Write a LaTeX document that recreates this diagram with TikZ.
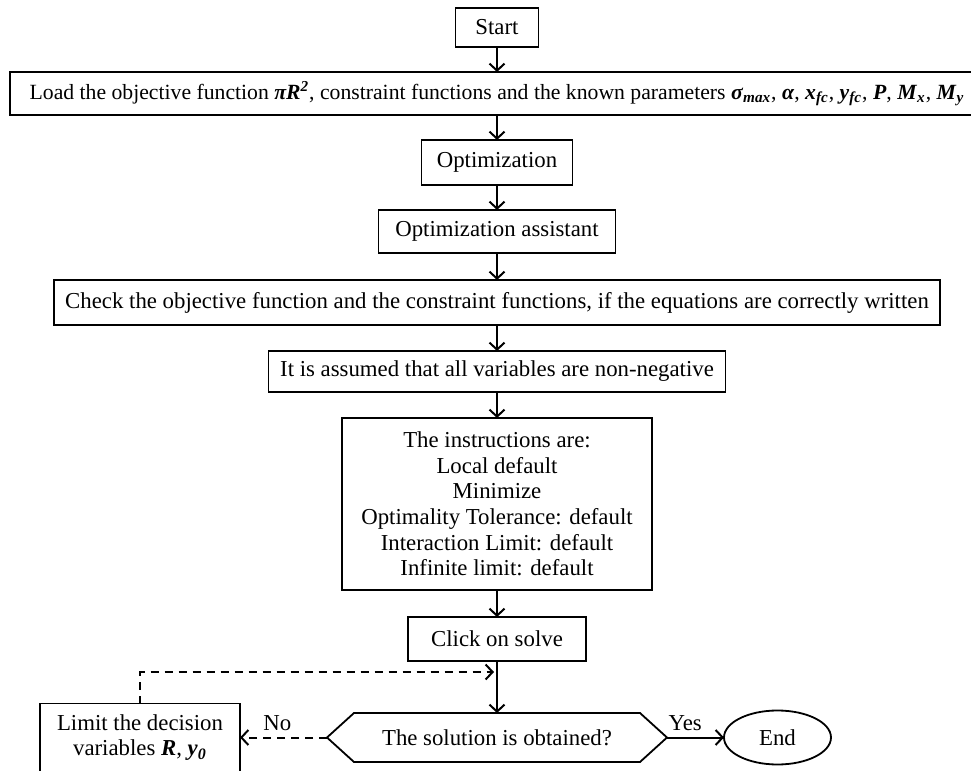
\documentclass[tikz,border=0pt]{standalone}
\usepackage{fontspec}
\setmainfont{Liberation Serif}
\usetikzlibrary{positioning, shapes.geometric, arrows.meta, calc}
\newcommand{\bivar}[1]{\textbf{\textit{#1}}}

\begin{document}
\begin{tikzpicture}[font=\fontsize{11.4}{12.8}\selectfont, node distance=12.5pt,
  s/.style={draw, line width=0.9pt, outer sep=0pt, minimum height=21.5pt, inner sep=2pt, align=center},
  arr/.style={-{Straight Barb[length=3.5pt, width=7.5pt]}, line width=1pt},
  darr/.style={arr, dash pattern=on 4pt off 3pt}
]
  \useasboundingbox (0,0) rectangle (485.5pt,-385.5pt);
  \node[s, minimum width=41.5pt, minimum height=19.5pt] (start) at (248.5pt,-13.75pt) {Start};
  \node[s, below=of start, minimum width=487pt, font=\fontsize{10.85}{12.8}\selectfont] (load) {Load the objective function \bivar{πR}\textsuperscript{\bivar{2}}, constraint functions and the known parameters \bivar{σ}\textsubscript{\bivar{max}}, \bivar{α}, \bivar{x}\textsubscript{\bivar{fc}}, \bivar{y}\textsubscript{\bivar{fc}}, \bivar{P}, \bivar{M}\textsubscript{\bivar{x}}, \bivar{M}\textsubscript{\bivar{y}}};
  \node[s, below=of load, minimum width=75.5pt, minimum height=22.5pt] (opt) {Optimization};
  \node[s, below=of opt, minimum width=118.5pt] (assist) {Optimization assistant};
  \node[s, below=13.5pt of assist, minimum width=443pt, minimum height=22.5pt] (check) {Check the objective function and the constraint functions, if the equations are correctly written};
  \node[s, below=13pt of check, minimum width=228.5pt, minimum height=20.5pt] (assume) {It is assumed that all variables are non-negative};
  \node[s, below=13pt of assume, minimum width=155pt, minimum height=86pt] (instr) {The instructions are:\\Local default\\Minimize\\Optimality Tolerance: default\\Interaction Limit: default\\Infinite limit: default};
  \node[s, below=13.5pt of instr, minimum width=89pt, minimum height=22pt] (solve) {Click on solve};
  \node[below=26pt of solve, outer sep=0pt, minimum width=170pt, minimum height=24.5pt, inner sep=0pt] (ask) {The solution is obtained?};
  \draw[line width=0.9pt] ([xshift=13.5pt]ask.north west) -- ([xshift=-13.5pt]ask.north east) -- (ask.east)
    -- ([xshift=-13.5pt]ask.south east) -- ([xshift=13.5pt]ask.south west) -- (ask.west) -- cycle;
  \node[s, left=43.5pt of ask, minimum width=100pt, minimum height=34pt] (limit) {Limit the decision\\variables \bivar{R}, \bivar{y}\textsubscript{\bivar{0}}};
  \node[draw, ellipse, line width=0.9pt, outer sep=0pt, right=28.5pt of ask, minimum width=53.5pt, minimum height=27pt, inner sep=0pt] (end) {End};
  \foreach \a/\b in {start/load, load/opt, opt/assist, assist/check, check/assume, assume/instr, instr/solve, solve/ask}
    \draw[arr] (\a) -- (\b);
  \coordinate (merge) at ([yshift=-5.5pt]solve.south);
  \draw[darr] (ask.west) -- node[above, pos=0.57, inner sep=3pt] {No} (limit.east);
  \draw[arr] (ask.east) -- node[above, pos=0.32, inner sep=3pt] {Yes} (end.west);
  \draw[darr] (limit.north) |- ([xshift=-1.5pt]merge);
\end{tikzpicture}
\end{document}
